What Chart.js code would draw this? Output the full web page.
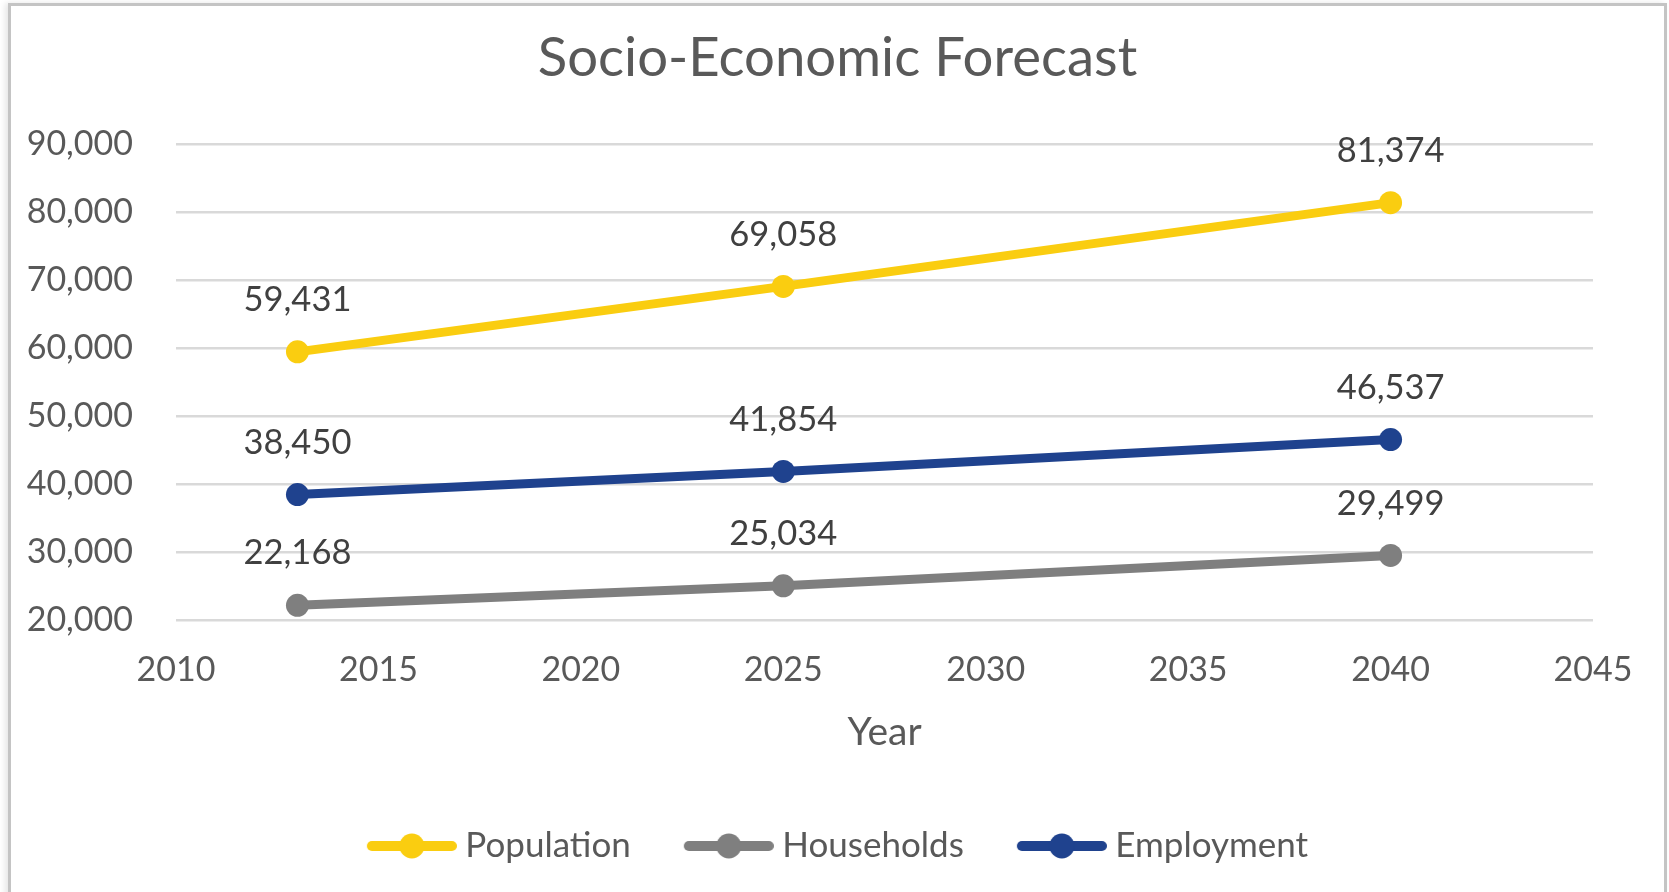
<!DOCTYPE html>
<html>
<head>
<meta charset="utf-8">
<script src="https://cdn.jsdelivr.net/npm/chart.js@4/dist/chart.umd.min.js"></script>
<style>
  html, body { margin: 0; padding: 0; background: #fff; overflow: hidden; }
  #frame {
    position: absolute;
    left: 8px;
    top: 3px;
    width: 1653px;
    height: 890px;
    border: 3px solid #c4c4c4;
    box-shadow: -3px 0 6px rgba(0, 0, 0, 0.10);
    background: #fff;
  }
  canvas { display: block; }
</style>
</head>
<body>
<div id="frame"><canvas id="chart" width="1653" height="890"></canvas></div>
<script>
const years = [2013, 2025, 2040];
const population = [59431, 69058, 81374];
const households = [22168, 25034, 29499];
const employment = [38450, 41854, 46537];
const seriesNames = ['Population', 'Households', 'Employment'];
const seriesColors = ['#FACD10', '#7F7F7F', '#1F428E'];

const textColor = '#595959';

function makeMarker(color) {
  // legend marker: short thick line with a dot in the middle.
  // drawn in the right part of a wider canvas so it sits close to the text
  const c = document.createElement('canvas');
  c.width = 99;
  c.height = 26;
  const ctx = c.getContext('2d');
  ctx.strokeStyle = color;
  ctx.lineWidth = 10;
  ctx.lineCap = 'round';
  ctx.beginPath();
  ctx.moveTo(14, 13);
  ctx.lineTo(94, 13);
  ctx.stroke();
  ctx.fillStyle = color;
  ctx.beginPath();
  ctx.arc(54, 13, 12.5, 0, Math.PI * 2);
  ctx.fill();
  return c;
}

function makeDataset(label, values, color) {
  return {
    label: label,
    data: values.map(function(v, i) {
      return { x: years[i], y: v };
    }),
    borderColor: color,
    backgroundColor: color,
    borderWidth: 9,
    pointRadius: 11.5,
    pointHoverRadius: 11.5,
    pointBorderWidth: 0,
    pointBackgroundColor: color,
    tension: 0
  };
}

// value labels above each point
const valueLabels = {
  id: 'valueLabels',
  afterDatasetsDraw(chart) {
    const ctx = chart.ctx;
    ctx.save();
    ctx.font = '34.5px Lato';
    ctx.fillStyle = '#404040';
    ctx.textAlign = 'center';
    ctx.textBaseline = 'middle';
    chart.data.datasets.forEach(function(ds, i) {
      const meta = chart.getDatasetMeta(i);
      meta.data.forEach(function(pt, j) {
        ctx.fillText(ds.data[j].y.toLocaleString('en-US'), pt.x, pt.y - 52);
      });
    });
    ctx.restore();
  }
};

function draw() {
  const markers = seriesColors.map(makeMarker);
  Chart.defaults.font.family = 'Lato';
  Chart.defaults.color = textColor;

  new Chart(document.getElementById('chart'), {
    type: 'line',
    data: {
      datasets: [
        makeDataset(seriesNames[0], population, seriesColors[0]),
        makeDataset(seriesNames[1], households, seriesColors[1]),
        makeDataset(seriesNames[2], employment, seriesColors[2])
      ]
    },
    options: {
      responsive: false,
      animation: false,
      layout: { padding: { left: 0, right: 0, top: 0, bottom: 22.5 } },
      plugins: {
        tooltip: { enabled: false },
        title: {
          display: true,
          text: 'Socio-Economic Forecast',
          color: textColor,
          font: { size: 54.5, weight: 'normal' },
          padding: { top: 19.3, bottom: 53.3 }
        },
        legend: {
          position: 'bottom',
          labels: {
            color: textColor,
            font: { size: 35 },
            usePointStyle: true,
            pointStyleWidth: 81,
            padding: 53,
            generateLabels: function(chart) {
              const items = Chart.defaults.plugins.legend.labels.generateLabels(chart);
              items.forEach(function(item, i) {
                item.pointStyle = markers[i];
              });
              return items;
            }
          }
        }
      },
      scales: {
        x: {
          type: 'linear',
          min: 2010,
          max: 2045,
          grid: { display: false, drawTicks: false },
          border: { display: false },
          ticks: {
            stepSize: 5,
            padding: 29.6,
            font: { size: 34 },
            color: textColor,
            callback: function(v) { return String(v); }
          },
          title: {
            display: true,
            text: 'Year',
            color: textColor,
            font: { size: 39 },
            padding: { top: 0, bottom: 20.1 }
          },
          afterFit: function(scale) { scale.height = 155.5; }
        },
        y: {
          min: 20000,
          max: 90000,
          grid: { color: '#D9D9D9', lineWidth: 2.5, drawTicks: false },
          border: { display: false },
          ticks: {
            stepSize: 10000,
            padding: 43,
            font: { size: 34 },
            color: textColor,
            callback: function(v) { return v.toLocaleString('en-US'); }
          },
          afterFit: function(scale) { scale.width = 165; }
        },
        // empty right-hand axis, only keeps space on the right of the plot
        yRight: {
          position: 'right',
          grid: { display: false, drawTicks: false },
          border: { display: false },
          ticks: { display: false },
          afterFit: function(scale) { scale.width = 71; }
        }
      }
    },
    plugins: [valueLabels]
  });
}

document.fonts.load('34px Lato').then(draw, draw);
</script>
</body>
</html>
